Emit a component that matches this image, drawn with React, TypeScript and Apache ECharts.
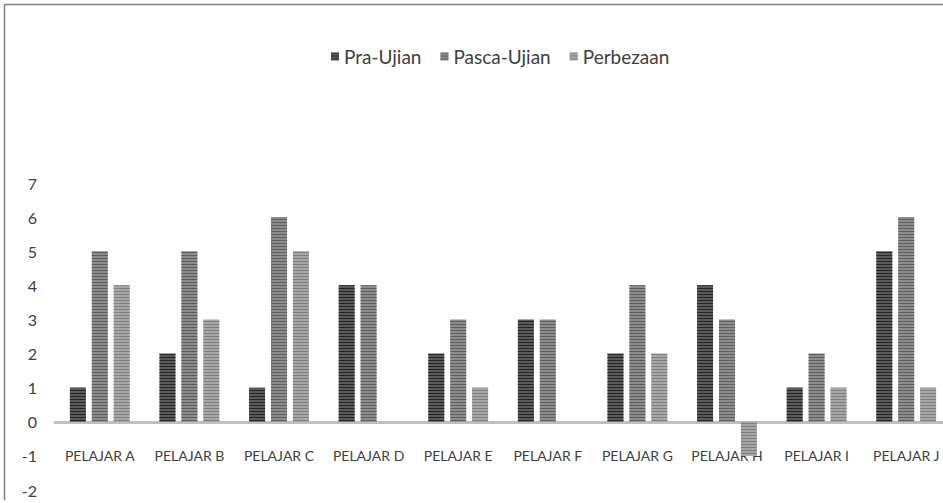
import React, { useEffect, useRef } from "react";
import * as echarts from "echarts";

const categories = [
  "PELAJAR A",
  "PELAJAR B",
  "PELAJAR C",
  "PELAJAR D",
  "PELAJAR E",
  "PELAJAR F",
  "PELAJAR G",
  "PELAJAR H",
  "PELAJAR I",
  "PELAJAR J",
];
const praUjian = [1, 2, 1, 4, 2, 3, 2, 4, 1, 5];
const pascaUjian = [5, 5, 6, 4, 3, 3, 4, 3, 2, 6];
const perbezaan = [4, 3, 5, 0, 1, 0, 2, -1, 1, 1];
const seriesNames = ["Pra-Ujian", "Pasca-Ujian", "Perbezaan"];

const FONT = "Lato, 'Open Sans', sans-serif";

function stripe(base: string, line: string) {
  return {
    color: base,
    borderWidth: 0,
    decal: {
      symbol: "rect",
      symbolSize: 1,
      dashArrayX: [1, 0],
      dashArrayY: [1, 2],
      rotation: 0,
      color: line,
    },
  };
}

export default function App() {
  const ref = useRef<HTMLDivElement>(null);
  useEffect(() => {
    if (!ref.current) return;
    const chart = echarts.init(ref.current, undefined, { renderer: "svg" });
    chart.setOption({
      animation: false,
      textStyle: { fontFamily: FONT },
      legend: {
        data: seriesNames,
        top: 47,
        left: 331,
        padding: 0,
        icon: "rect",
        itemWidth: 8,
        itemHeight: 8,
        itemGap: 19,
        textStyle: { fontFamily: FONT, fontSize: 19, color: "#404040" },
      },
      graphic: [
        {
          type: "line",
          shape: { x1: 4.5, y1: 4.5, x2: 943, y2: 4.5 },
          style: { stroke: "#808080", lineWidth: 1.5 },
        },
        {
          type: "line",
          shape: { x1: 4.5, y1: 4.5, x2: 4.5, y2: 500 },
          style: { stroke: "#808080", lineWidth: 1.5 },
        },
      ],
      grid: {
        left: 55,
        top: 183,
        width: 896,
        height: 307,
        containLabel: false,
        outerBoundsMode: "none",
      },
      xAxis: {
        type: "category",
        data: categories,
        axisLine: { onZero: true, lineStyle: { color: "#bfbfbf", width: 3 } },
        axisTick: { show: false },
        axisLabel: {
          margin: -42,
          fontSize: 14,
          color: "#404040",
          fontFamily: FONT,
          interval: 0,
        },
      },
      yAxis: {
        type: "value",
        min: -2,
        max: 7,
        interval: 1,
        axisLine: { show: false },
        axisTick: { show: false },
        splitLine: { show: false },
        axisLabel: { fontSize: 16, color: "#404040", margin: 18, fontFamily: FONT },
      },
      series: [
        {
          name: seriesNames[0],
          type: "bar",
          data: praUjian,
          barWidth: 16,
          barGap: "37%",
          barCategoryGap: "33%",
          itemStyle: stripe("#5a5a5a", "#262626"),
        },
        {
          name: seriesNames[1],
          type: "bar",
          data: pascaUjian,
          barWidth: 16,
          itemStyle: stripe("#8c8c8c", "#5e5e5e"),
        },
        {
          name: seriesNames[2],
          type: "bar",
          data: perbezaan,
          barWidth: 16,
          itemStyle: stripe("#a6a6a6", "#7f7f7f"),
        },
      ],
    });
    return () => chart.dispose();
  }, []);
  return (
    <div
      ref={ref}
      style={{ position: "fixed", left: 0, top: 0, width: 943, height: 503, background: "#fff" }}
    />
  );
}
